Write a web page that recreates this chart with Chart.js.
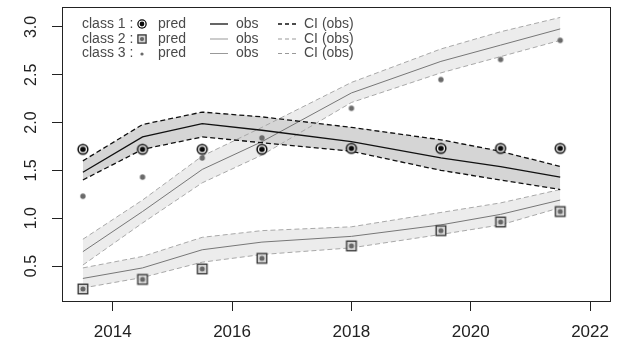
<!DOCTYPE html>
<html><head><meta charset="utf-8">
<script src="https://cdn.jsdelivr.net/npm/chart.js@4"></script>
<style>html,body{margin:0;padding:0;background:#fff}#wrap{width:617px;height:349px;position:relative}</style>
</head><body><div id="wrap"><canvas id="c"></canvas></div>
<script>
const years = [2013.5, 2014.5, 2015.5, 2016.5, 2018, 2019.5, 2020.5, 2021.5];
const xTicks = [2014, 2016, 2018, 2020, 2022];
const yTicks = [0.5, 1.0, 1.5, 2.0, 2.5, 3.0];

const c1Pred  = [1.72, 1.72, 1.72, 1.72, 1.73, 1.73, 1.73, 1.73];
const c1Obs   = [1.48, 1.85, 1.99, 1.92, 1.80, 1.63, 1.54, 1.43];
const c1Upper = [1.60, 1.98, 2.11, 2.06, 1.95, 1.82, 1.70, 1.54];
const c1Lower = [1.40, 1.72, 1.85, 1.79, 1.70, 1.50, 1.40, 1.30];

const c2Pred  = [0.26, 0.36, 0.47, 0.58, 0.71, 0.87, 0.96, 1.07];
const c2Obs   = [0.37, 0.48, 0.67, 0.75, 0.81, 0.93, 1.04, 1.19];
const c2Upper = [0.48, 0.60, 0.80, 0.87, 0.91, 1.06, 1.16, 1.30];
const c2Lower = [0.27, 0.38, 0.54, 0.62, 0.69, 0.83, 0.93, 1.11];

const c3Pred  = [1.23, 1.43, 1.63, 1.84, 2.15, 2.45, 2.66, 2.86];
const c3Obs   = [0.65, 1.07, 1.51, 1.80, 2.31, 2.64, 2.81, 2.98];
const c3Upper = [0.78, 1.19, 1.65, 1.95, 2.42, 2.77, 2.95, 3.10];
const c3Lower = [0.51, 0.95, 1.37, 1.66, 2.21, 2.52, 2.69, 2.86];

const classLabels = ['class 1 :', 'class 2 :', 'class 3 :'];

function pts(arr) { return years.map((x, i) => ({x: x, y: arr[i]})); }

function marker(kind, s) {
  const size = 16;
  const cv = document.createElement('canvas');
  cv.width = size; cv.height = size;
  const g = cv.getContext('2d');
  const c = size / 2;
  if (kind === 1) {
    g.fillStyle = '#0a0a0a'; g.beginPath(); g.arc(c, c, 5.6 * s, 0, 2 * Math.PI); g.fill();
    g.fillStyle = '#fff'; g.beginPath(); g.arc(c, c, 4.1 * s, 0, 2 * Math.PI); g.fill();
    g.fillStyle = '#0a0a0a'; g.beginPath(); g.arc(c, c, 2.8 * s, 0, 2 * Math.PI); g.fill();
  } else if (kind === 2) {
    const h = 4.8 * s;
    g.fillStyle = '#d6d6d6'; g.fillRect(c - h, c - h, 2 * h, 2 * h);
    g.strokeStyle = '#333'; g.lineWidth = 1.3; g.strokeRect(c - h, c - h, 2 * h, 2 * h);
    g.fillStyle = '#666'; g.beginPath(); g.arc(c, c, 2.5 * s, 0, 2 * Math.PI); g.fill();
  } else {
    g.fillStyle = '#6a6a6a'; g.beginPath(); g.arc(c, c, 2.7 * s, 0, 2 * Math.PI); g.fill();
  }
  return cv;
}
const m1 = marker(1, 1), m2 = marker(2, 1), m3 = marker(3, 1);
const l1 = marker(1, 0.85), l2 = marker(2, 0.85), l3 = marker(3, 0.6);

function band(lower, upper, obs, lineCol, dashCol, bandCol, lw, dash, ord) {
  return [
    {data: pts(lower), borderColor: dashCol, borderWidth: lw, borderDash: dash, pointRadius: 0, fill: false, order: ord, tension: 0},
    {data: pts(upper), borderColor: dashCol, borderWidth: lw, borderDash: dash, pointRadius: 0, fill: '-1', backgroundColor: bandCol, order: ord, tension: 0},
    {data: pts(obs), borderColor: lineCol, borderWidth: lw, pointRadius: 0, fill: false, order: ord, tension: 0}
  ];
}
function predSet(arr, img) {
  return {data: pts(arr), showLine: false, pointStyle: img, pointRadius: 6, fill: false, order: 0};
}

const datasets = [].concat(
  band(c1Lower, c1Upper, c1Obs, '#111', '#111', '#d5d5d5', 1.3, [5, 3], 1),
  band(c2Lower, c2Upper, c2Obs, '#777', '#a8a8a8', '#ececec', 1, [5, 3], 3),
  band(c3Lower, c3Upper, c3Obs, '#777', '#a8a8a8', '#ececec', 1, [5, 3], 2),
  [predSet(c1Pred, m1), predSet(c2Pred, m2), predSet(c3Pred, m3)]
);

const FONT = '"Liberation Sans", Arial, sans-serif';

const extras = {
  id: 'extras',
  afterDraw(chart) {
    const ctx = chart.ctx, a = chart.chartArea;
    ctx.save();
    ctx.strokeStyle = '#222'; ctx.lineWidth = 1;
    ctx.strokeRect(Math.round(a.left) + 0.5, Math.round(a.top) + 0.5, Math.round(a.right - a.left), Math.round(a.bottom - a.top));
    const ys = chart.scales.y;
    ctx.font = '16px ' + FONT; ctx.fillStyle = '#222';
    ctx.textAlign = 'center'; ctx.textBaseline = 'middle';
    ys.ticks.forEach(t => {
      const y = ys.getPixelForValue(t.value);
      ctx.save(); ctx.translate(32, y); ctx.rotate(-Math.PI / 2);
      ctx.fillText(t.value.toFixed(1), 0, 0); ctx.restore();
    });
    const rows = [24, 39, 53.5];
    const mk = [l1, l2, l3];
    ctx.font = '14px ' + FONT;
    ctx.textAlign = 'left'; ctx.textBaseline = 'middle';
    rows.forEach((ry, i) => {
      ctx.fillStyle = '#4a4a4a';
      ctx.fillText(classLabels[i], 82, ry);
      ctx.drawImage(mk[i], 134, Math.round(ry) - 8);
      ctx.fillText('pred', 158, ry);
      ctx.fillText('obs', 236, ry);
      ctx.fillText('CI (obs)', 304, ry);
      const col = i === 0 ? '#111' : '#999';
      ctx.strokeStyle = col; ctx.lineWidth = i === 0 ? 1.3 : 1;
      ctx.setLineDash([]);
      ctx.beginPath(); ctx.moveTo(210, ry); ctx.lineTo(228, ry); ctx.stroke();
      ctx.setLineDash([4, 3]);
      ctx.beginPath(); ctx.moveTo(278, ry); ctx.lineTo(298, ry); ctx.stroke();
      ctx.setLineDash([]);
    });
    ctx.restore();
  }
};

new Chart(document.getElementById('c'), {
  type: 'line',
  data: {datasets: datasets},
  options: {
    responsive: true, maintainAspectRatio: false, animation: false,
    layout: {padding: {top: 7, right: 5, left: 0, bottom: 0}},
    plugins: {legend: {display: false}, tooltip: {enabled: false}, filler: {drawTime: 'beforeDatasetsDraw'}},
    scales: {
      x: {
        type: 'linear', min: 2013.15, max: 2022.334,
        afterBuildTicks: s => { s.ticks = xTicks.map(v => ({value: v})); },
        afterFit: s => { s.height = 48; s.paddingLeft = 0; s.paddingRight = 0; s.paddingTop = 0; s.paddingBottom = 0; },
        grid: {drawOnChartArea: false, drawTicks: true, tickLength: 10, color: '#222'},
        border: {display: true, color: '#222'},
        ticks: {callback: v => String(v), font: {size: 17, family: FONT}, color: '#222', padding: 11, autoSkip: false, maxRotation: 0}
      },
      y: {
        type: 'linear', min: 0.134, max: 3.209,
        afterBuildTicks: s => { s.ticks = yTicks.map(v => ({value: v})); },
        afterFit: s => { s.width = 62; s.paddingLeft = 0; s.paddingRight = 0; s.paddingTop = 0; s.paddingBottom = 0; },
        grid: {drawOnChartArea: false, drawTicks: true, tickLength: 10, color: '#222'},
        border: {display: true, color: '#222'},
        ticks: {display: false}
      }
    }
  },
  plugins: [extras]
});
</script></body></html>
